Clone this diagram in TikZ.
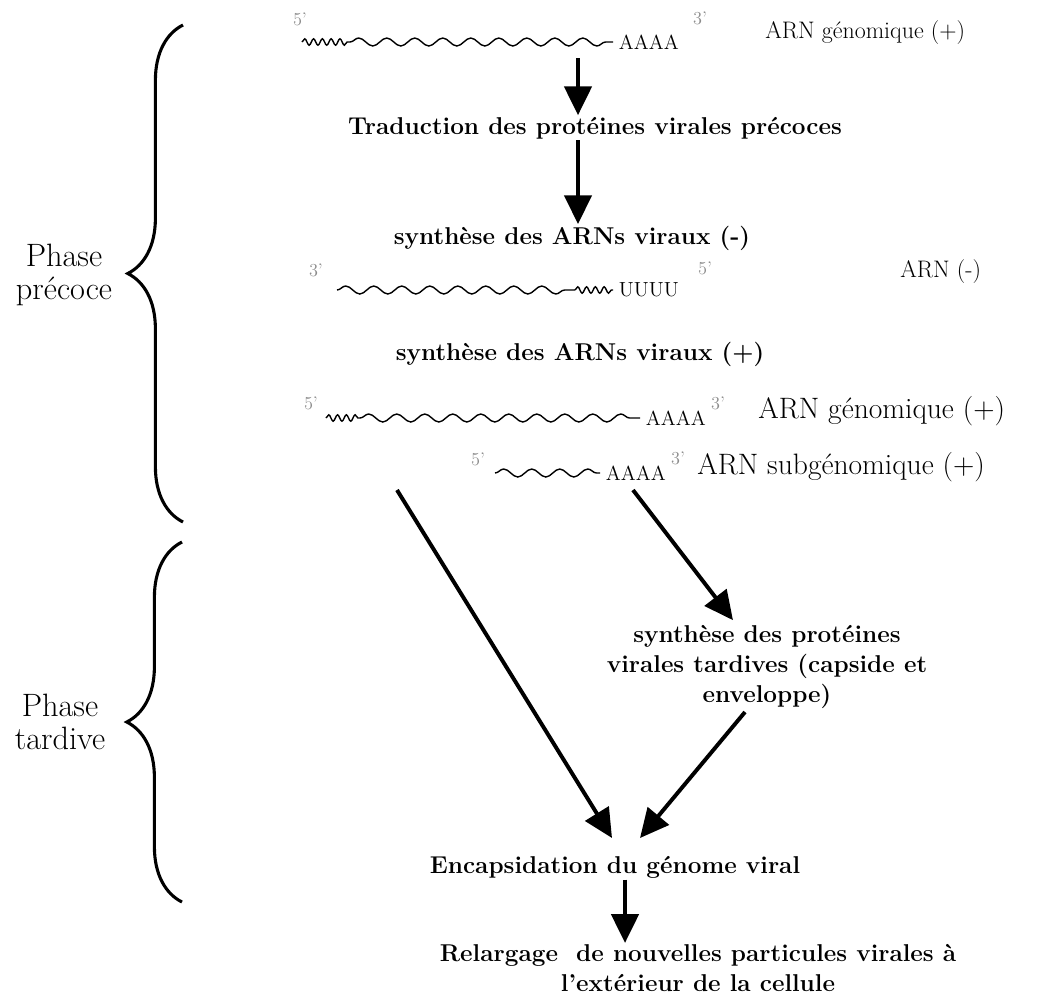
\documentclass[tikz,border=0pt]{standalone}
\usepackage{tikz}
\usetikzlibrary{arrows.meta, positioning, decorations.pathmorphing, decorations.pathreplacing}

\begin{document}
\begin{tikzpicture}[
        x=0.025cm, y=-0.025cm,
        strand/.style={decorate, decoration={snake, segment length=0.7cm, amplitude=0.1cm}, line width=1pt},
        strandfin/.style={decorate, decoration={snake, segment length=0.22cm, amplitude=0.08cm}, line width=1pt},
        prime/.style={inner sep=0pt, font=\fontsize{13}{13}\selectfont, text=black!45},
        seqend/.style={inner sep=0pt, font=\fontsize{14.5}{14.5}\selectfont},
        lbl/.style={inner sep=0pt, anchor=base west, font=\fontsize{17}{17}\selectfont},
        biglbl/.style={inner sep=0pt, anchor=base west, font=\fontsize{21}{21}\selectfont},
        etape/.style={inner sep=1pt, align=center, font=\fontsize{17.3}{21}\selectfont\bfseries},
        phase/.style={align=center, font=\fontsize{23}{24}\selectfont},
        fleche/.style={-{Triangle[length=0.72cm, width=0.68cm]}, line width=2.8pt},
        accolade/.style={decorate, decoration={brace, amplitude=1.38cm}, line width=2.2pt},
    ]
    \useasboundingbox (0,0) rectangle (1064,996);

    % ARN genomique (+) de depart
    \coordinate (g1a) at (302,42);
    \coordinate (g1b) at (350,42);
    \coordinate (g1c) at (613,42);
    \draw[strandfin] (g1a) -- (g1b);
    \draw[strand] (g1b) -- (g1c);
    \node[seqend, right=4pt of g1c] (g1A) {AAAA};
    \node[prime] (g1p5) at (300,19) {5'};
    \node[prime] (g1p3) at (700,18) {3'};
    \node[lbl] (g1lbl) at (765,38) {ARN génomique (+)};

    % etapes de la phase precoce
    \node[etape, anchor=base] (trad) at (595,134) {Traduction des protéines virales précoces};
    \node[etape, anchor=base] (moins) at (572,244) {synthèse des ARNs viraux (-)};
    \coordinate (f1) at (578,58);
    \draw[fleche] (f1) -- (f1 |- trad.north);
    \draw[fleche] (trad.south -| f1) -- (f1 |- moins.north);

    % ARN (-)
    \coordinate (m1a) at (337,290);
    \coordinate (m1b) at (575,290);
    \coordinate (m1c) at (613,290);
    \draw[strand] (m1a) -- (m1b);
    \draw[strandfin] (m1b) -- (m1c);
    \node[seqend, right=4pt of m1c] (m1U) {UUUU};
    \node[prime] (m1p3) at (316,270) {3'};
    \node[prime] (m1p5) at (705,268) {5'};
    \node[lbl] (m1lbl) at (900,277) {ARN (-)};

    % ARNs (+)
    \node[etape, anchor=base] (plus) at (580,360) {synthèse des ARNs viraux (+)};
    \coordinate (g2a) at (326,418);
    \coordinate (g2b) at (360,418);
    \coordinate (g2c) at (640,418);
    \draw[strandfin] (g2a) -- (g2b);
    \draw[strand] (g2b) -- (g2c);
    \node[seqend, right=4pt of g2c] (g2A) {AAAA};
    \node[prime] (g2p5) at (311,403) {5'};
    \node[prime] (g2p3) at (718,403) {3'};
    \node[biglbl] (g2lbl) at (758,418) {ARN génomique (+)};

    \coordinate (s1a) at (495,473);
    \coordinate (s1b) at (600,473);
    \draw[strand] (s1a) -- (s1b);
    \node[seqend, right=4pt of s1b] (s1A) {AAAA};
    \node[prime] (s1p5) at (478,459) {5'};
    \node[prime] (s1p3) at (678,458) {3'};
    \node[biglbl] (s1lbl) at (697,474) {ARN subgénomique (+)};

    % phase tardive
    \node[etape] (tard) at (767,667) {synthèse des protéines\\virales tardives (capside et\\enveloppe)};
    \node[etape, anchor=base] (encaps) at (615,873) {Encapsidation du génome viral};
    \node[etape] (relarg) at (698,968) {Relargage\ \ de nouvelles particules virales à\\l'extérieur de la cellule};

    \coordinate (fL) at (397,490);
    \coordinate (tL) at (612,838);
    \coordinate (fR) at (633,490);
    \coordinate (fT) at (745,712);
    \coordinate (tR) at (640,838);
    \draw[fleche] (fL) -- (tL);
    \draw[fleche] (fR) -- ([xshift=-0.85cm, yshift=0.1cm]tard.north);
    \draw[fleche] (fT) -- (tR);
    \draw[fleche] (encaps.south -| 625,0) -- (relarg.north -| 625,0);

    % accolades
    \coordinate (b1h) at (183,25);
    \coordinate (b1b) at (183,522);
    \coordinate (b2h) at (182,542);
    \coordinate (b2b) at (182,902);
    \draw[accolade] (b1b) -- (b1h);
    \draw[accolade] (b2b) -- (b2h);
    \node[phase] (precoce) at (64,275) {Phase\\précoce};
    \node[phase] (tardive) at (60,722) {Phase\\tardive};
\end{tikzpicture}
\end{document}
